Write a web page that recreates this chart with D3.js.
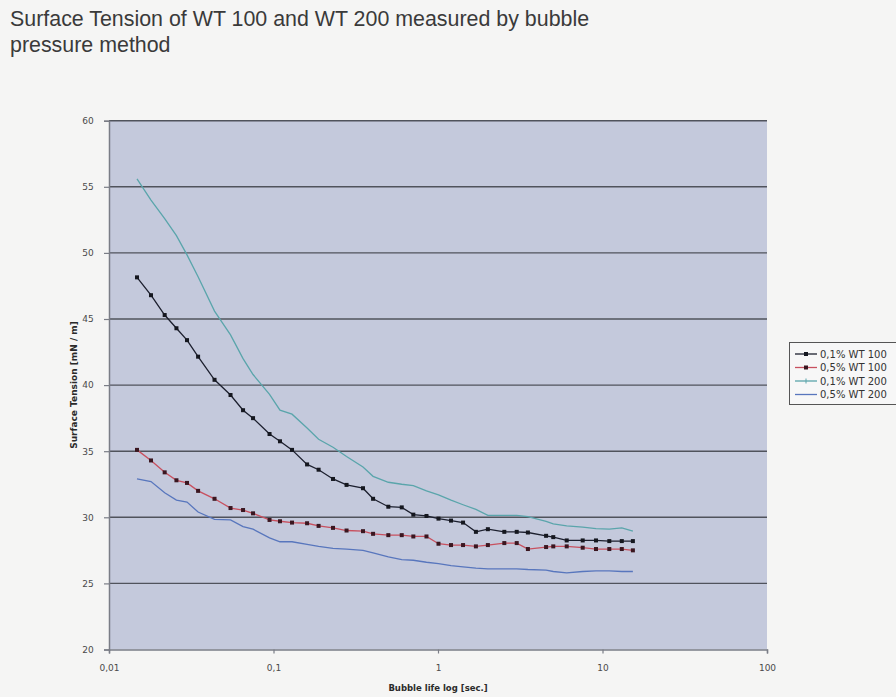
<!DOCTYPE html>
<html><head><meta charset="utf-8">
<script src="https://cdn.jsdelivr.net/npm/d3@7"></script>
<style>
html,body{margin:0;padding:0;background:#f5f5f4;}
svg{display:block;}
</style></head>
<body>
<svg id="c" width="896" height="697"></svg>
<script>
// ---- data ----
const bubbleLife = [0.0148,0.018,0.0218,0.0257,0.0298,0.0348,0.0438,0.0548,0.0653,0.0751,0.0946,0.1095,0.1296,0.160,0.188,0.230,0.278,0.350,0.403,0.499,0.602,0.708,0.851,1.007,1.20,1.42,1.70,2.01,2.53,3.01,3.52,4.54,5.02,6.06,7.58,9.13,11.0,13.1,15.3];
const wt100_01 = [48.15,46.8,45.3,44.3,43.4,42.15,40.4,39.25,38.1,37.5,36.3,35.75,35.1,34.0,33.6,32.9,32.45,32.2,31.4,30.8,30.75,30.2,30.1,29.9,29.75,29.6,28.9,29.1,28.9,28.9,28.85,28.6,28.5,28.25,28.25,28.25,28.2,28.2,28.2];
const wt100_05 = [35.1,34.3,33.4,32.8,32.6,32.0,31.4,30.7,30.55,30.3,29.8,29.7,29.6,29.55,29.35,29.2,29.0,28.95,28.75,28.65,28.65,28.55,28.55,28.0,27.9,27.9,27.8,27.9,28.05,28.05,27.6,27.75,27.8,27.8,27.7,27.6,27.6,27.6,27.5];
const wt200_01 = [55.6,54.0,52.6,51.3,49.85,48.2,45.6,43.8,42.0,40.8,39.3,38.1,37.8,36.75,35.9,35.3,34.6,33.8,33.1,32.65,32.5,32.4,32.0,31.7,31.3,30.95,30.6,30.15,30.15,30.15,30.05,29.7,29.5,29.35,29.25,29.15,29.1,29.2,28.95];
const wt200_05 = [32.9,32.7,31.85,31.3,31.15,30.4,29.85,29.8,29.3,29.1,28.45,28.15,28.15,27.95,27.8,27.65,27.6,27.5,27.3,27.0,26.8,26.75,26.6,26.5,26.35,26.25,26.15,26.1,26.1,26.1,26.05,26.0,25.9,25.8,25.9,25.95,25.95,25.9,25.9];
const seriesNames = ["0,1% WT 100","0,5% WT 100","0,1% WT 200","0,5% WT 200"];
const xTicks = [0.01,0.1,1,10,100];
const xTickLabels = ["0,01","0,1","1","10","100"];
const yTicks = [20,25,30,35,40,45,50,55,60];

// ---- styles ----
const styles = [
  {color:"#1c1f2e", marker:"square", mcolor:"#15171f"},
  {color:"#c8505f", marker:"square", mcolor:"#3a1620"},
  {color:"#5aa5ab", marker:"none"},
  {color:"#5876bd", marker:"none"}
];
const seriesVals = [wt100_01, wt100_05, wt200_01, wt200_05];

const svg = d3.select("#c");
const pLeft = 109, pRight = 767, pTop = 120.7, pBottom = 649.5;
const x = d3.scaleLog().domain([0.01,100]).range([pLeft,pRight]);
const y = d3.scaleLinear().domain([20,60]).range([pBottom,pTop]);

// title
const title = svg.append("g").attr("font-family","Liberation Sans, Arial, sans-serif").attr("font-size",21.4).attr("fill","#3a3a3a");
title.append("text").attr("x",10).attr("y",26).text("Surface Tension of WT 100 and WT 200 measured by bubble");
title.append("text").attr("x",10).attr("y",52).text("pressure method");

// plot background
svg.append("rect").attr("x",pLeft).attr("y",pTop).attr("width",pRight-pLeft).attr("height",pBottom-pTop).attr("fill","#c4c9dc");

// gridlines
svg.append("g").selectAll("line").data(yTicks.filter(d=>d>20)).join("line")
  .attr("x1",pLeft).attr("x2",pRight).attr("y1",d=>y(d)).attr("y2",d=>y(d))
  .attr("stroke","#50535c").attr("stroke-width",1.4);

// axes
const yAxis = d3.axisLeft(y).tickValues(yTicks).tickSize(5).tickFormat(d3.format("d"));
const gy = svg.append("g").attr("transform",`translate(${pLeft},0)`).call(yAxis);
const xAxis = d3.axisBottom(x).tickValues(xTicks).tickSize(4).tickFormat((d,i)=>xTickLabels[i]);
const gx = svg.append("g").attr("transform",`translate(0,${pBottom})`).call(xAxis);
[gx,gy].forEach(g=>{
  g.select(".domain").attr("stroke","#7a7d86").attr("stroke-width",1.5);
  g.selectAll(".tick line").attr("stroke","#7a7d86").attr("stroke-width",1.2);
  g.selectAll(".tick text").attr("font-family","DejaVu Sans, Verdana, sans-serif").attr("font-size",9).attr("fill","#4a4a4a");
});
gx.selectAll(".tick text").attr("dy","1.6em");
gy.selectAll(".tick text").attr("dx","-0.8em");

// axis titles
svg.append("text").attr("x",438).attr("y",691).attr("text-anchor","middle")
  .attr("font-family","DejaVu Sans, Verdana, sans-serif").attr("font-size",8.5).attr("font-weight","bold").attr("fill","#2a2a2a")
  .text("Bubble life log  [sec.]");
svg.append("text").attr("transform","translate(77,385) rotate(-90)").attr("text-anchor","middle")
  .attr("font-family","DejaVu Sans, Verdana, sans-serif").attr("font-size",9).attr("font-weight","bold").attr("fill","#2a2a2a")
  .text("Surface Tension [mN / m]");

// lines
const line = d3.line().x(d=>x(d[0])).y(d=>y(d[1]));
const plot = svg.append("g");
[2,3,1,0].forEach(i=>{
  const pts = bubbleLife.map((b,j)=>[b,seriesVals[i][j]]);
  plot.append("path").datum(pts).attr("d",line).attr("fill","none")
    .attr("stroke",styles[i].color).attr("stroke-width",1.3);
  if(styles[i].marker==="square"){
    plot.append("g").selectAll("rect").data(pts).join("rect")
      .attr("x",d=>x(d[0])-2).attr("y",d=>y(d[1])-2).attr("width",4).attr("height",4)
      .attr("fill",styles[i].mcolor);
  }
});

// legend
const lg = svg.append("g");
lg.append("rect").attr("x",789.5).attr("y",342.5).attr("width",120).attr("height",62)
  .attr("fill","#f7f7f7").attr("stroke","#555").attr("stroke-width",1);
seriesNames.forEach((n,i)=>{
  const yy = 354 + i*13.5;
  lg.append("line").attr("x1",795).attr("x2",817).attr("y1",yy).attr("y2",yy)
    .attr("stroke",styles[i].color).attr("stroke-width",1.3);
  if(styles[i].marker==="square"){
    lg.append("rect").attr("x",804).attr("y",yy-2).attr("width",4).attr("height",4).attr("fill",styles[i].mcolor);
  } else if(i===2){
    lg.append("path").attr("d",`M806,${yy-2.5}L806,${yy+2.5}`).attr("stroke",styles[i].color).attr("stroke-width",1);
  }
  lg.append("text").attr("x",820).attr("y",yy+3.5).attr("font-family","DejaVu Sans, Verdana, sans-serif")
    .attr("font-size",10).attr("fill","#333").text(n);
});
</script>
</body></html>
